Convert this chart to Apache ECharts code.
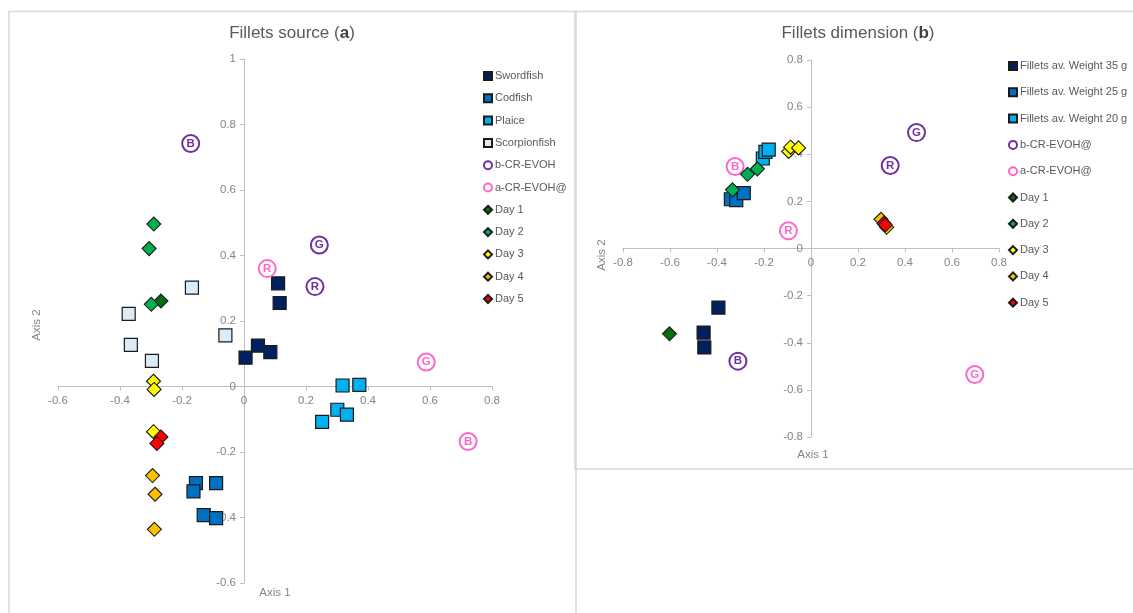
<!DOCTYPE html>
<html>
<head>
<meta charset="utf-8">
<script src="https://cdn.jsdelivr.net/npm/echarts@6/dist/echarts.min.js"></script>
<style>
  html, body { margin: 0; padding: 0; background: #ffffff; }
  #chart { width: 1133px; height: 613px; }
</style>
</head>
<body>
<div id="chart"></div>
<script>
// ---- Panel (a): Fillets source ----
const sourceLegend = ['Swordfish', 'Codfish', 'Plaice', 'Scorpionfish', 'b-CR-EVOH', 'a-CR-EVOH@', 'Day 1', 'Day 2', 'Day 3', 'Day 4', 'Day 5'];
const swordfish    = [[0.110, 0.315], [0.115, 0.255], [0.045, 0.125], [0.085, 0.105], [0.005, 0.088]];
const codfish      = [[-0.155, -0.295], [-0.090, -0.295], [-0.163, -0.320], [-0.130, -0.393], [-0.090, -0.402]];
const plaice       = [[0.318, 0.003], [0.372, 0.005], [0.301, -0.071], [0.332, -0.086], [0.252, -0.108]];
const scorpionfish = [[-0.168, 0.302], [-0.372, 0.222], [-0.365, 0.127], [-0.297, 0.078], [-0.060, 0.156]];
const srcBEvoh     = [[-0.172, 0.742, 'B'], [0.243, 0.432, 'G'], [0.229, 0.305, 'R']];
const srcAEvoh     = [[0.075, 0.360, 'R'], [0.588, 0.075, 'G'], [0.723, -0.168, 'B']];
const srcDay1      = [[-0.268, 0.261]];
const srcDay2      = [[-0.291, 0.496], [-0.306, 0.421], [-0.299, 0.251]];
const srcDay3      = [[-0.292, 0.016], [-0.290, -0.009], [-0.292, -0.138]];
const srcDay4      = [[-0.295, -0.272], [-0.287, -0.329], [-0.289, -0.436]];
const srcDay5      = [[-0.268, -0.154], [-0.281, -0.174]];
const srcXTicks    = { min: -0.6, max: 0.8, step: 0.2 };
const srcYTicks    = { min: -0.6, max: 1.0, step: 0.2 };

// ---- Panel (b): Fillets dimension ----
const dimLegend = ['Fillets av. Weight 35 g', 'Fillets av. Weight 25 g', 'Fillets av. Weight 20 g', 'b-CR-EVOH@', 'a-CR-EVOH@', 'Day 1', 'Day 2', 'Day 3', 'Day 4', 'Day 5'];
const weight35  = [[-0.394, -0.251], [-0.457, -0.357], [-0.454, -0.420]];
const weight25  = [[-0.341, 0.209], [-0.318, 0.205], [-0.286, 0.235]];
const weight20  = [[-0.205, 0.382], [-0.194, 0.410], [-0.180, 0.420]];
const dimBEvoh  = [[0.449, 0.492, 'G'], [0.337, 0.352, 'R'], [-0.311, -0.478, 'B']];
const dimAEvoh  = [[-0.323, 0.348, 'B'], [-0.096, 0.075, 'R'], [0.697, -0.535, 'G']];
const dimDay1   = [[-0.602, -0.362]];
const dimDay2   = [[-0.334, 0.249], [-0.270, 0.315], [-0.228, 0.338]];
const dimDay3   = [[-0.095, 0.412], [-0.087, 0.430], [-0.053, 0.427]];
const dimDay4   = [[0.298, 0.124], [0.322, 0.090]];
const dimDay5   = [[0.310, 0.107], [0.316, 0.100]];
const dimXTicks = { min: -0.8, max: 0.8, step: 0.2 };
const dimYTicks = { min: -0.8, max: 0.8, step: 0.2 };

// ---- styling ----
const FONT = '"Liberation Sans", Arial, sans-serif';
const TEXT = '#595959';
const TICK = '#858585';
const AXIS = '#bfbfbf';
const EDGE = '#1a1a1a';
const C = {
  navy: '#002060', blue: '#0070c0', sky: '#00b0f0', pale: '#ddebf7',
  purple: '#7030a0', pink: '#ff66cc',
  day1: '#00700f', day2: '#00b050', day3: '#ffff00', day4: '#ffc000', day5: '#ff0000'
};

// plot boxes of the two panels (pixels)
const gridA = { left: 58, top: 59, width: 434, height: 524 };
const gridB = { left: 623, top: 60, width: 376, height: 377 };

function squares(name, data, color, idx) {
  return { type: 'scatter', name, data, xAxisIndex: idx, yAxisIndex: idx,
    symbol: 'rect', symbolSize: 13,
    itemStyle: { color, borderColor: EDGE, borderWidth: 1.2, opacity: 1 } };
}
function diamonds(name, data, color, idx) {
  return { type: 'scatter', name, data, xAxisIndex: idx, yAxisIndex: idx,
    symbol: 'diamond', symbolSize: 14,
    itemStyle: { color, borderColor: EDGE, borderWidth: 1.1, opacity: 1 } };
}
function rings(name, data, color, idx) {
  return { type: 'scatter', name, data, xAxisIndex: idx, yAxisIndex: idx,
    symbol: 'circle', symbolSize: 17,
    encode: { x: 0, y: 1 },
    itemStyle: { color: '#ffffff', borderColor: color, borderWidth: 2, opacity: 1 },
    label: { show: true, position: 'inside', formatter: p => p.data[2],
      color, fontFamily: FONT, fontSize: 11.5, fontWeight: 'bold' } };
}
// pixel offset of the value-0 line from the grid edge, so tick labels sit beside the crossing axis
function zeroOffset(t, span) { return (0 - t.min) / (t.max - t.min) * span; }
function xAxisFor(idx, t, g, yt) {
  const shift = zeroOffset(yt, g.height);
  return { type: 'value', gridIndex: idx, min: t.min, max: t.max, interval: t.step,
    axisLine: { onZero: true, lineStyle: { color: AXIS, width: 1 } },
    axisTick: { show: true, length: 4, lineStyle: { color: AXIS } },
    axisLabel: { color: TICK, fontFamily: FONT, fontSize: 11.5, margin: 8 - shift,
      formatter: v => String(Math.round(v * 10) / 10) },
    splitLine: { show: false } };
}
function yAxisFor(idx, t, g, xt) {
  const shift = zeroOffset(xt, g.width);
  return { type: 'value', gridIndex: idx, min: t.min, max: t.max, interval: t.step,
    axisLine: { onZero: true, lineStyle: { color: AXIS, width: 1 } },
    axisTick: { show: true, length: 4, lineStyle: { color: AXIS } },
    axisLabel: { color: TICK, fontFamily: FONT, fontSize: 11.5, margin: 8 - shift,
      formatter: v => String(Math.round(v * 10) / 10) },
    splitLine: { show: false } };
}
function legendAt(data, left, top, gap) {
  return { data, orient: 'vertical', left, top, padding: 0, itemWidth: 8, itemHeight: 8, itemGap: gap,
    selectedMode: false,
    textStyle: { color: TEXT, fontFamily: FONT, fontSize: 11, lineHeight: 14, padding: [0, 0, 0, -2] } };
}
function axisName(text, x, y, rotate) {
  return { type: 'text', x, y, rotation: rotate ? Math.PI / 2 : 0,
    style: { text, fill: TICK, font: '11.5px ' + FONT, align: 'center', verticalAlign: 'middle' } };
}
function panelTitle(main, letter, x) {
  return { text: '{n|' + main + ' (}{b|' + letter + '}{n|)}', left: x, top: 25, textAlign: 'center', padding: 0,
    textStyle: { fontWeight: 'normal', rich: {
      n: { fontFamily: FONT, fontSize: 17, color: TEXT, fontWeight: 'normal' },
      b: { fontFamily: FONT, fontSize: 17, color: '#404040', fontWeight: 'bold' } } } };
}

const option = {
  animation: false,
  backgroundColor: '#ffffff',
  title: [panelTitle('Fillets source', 'a', 292), panelTitle('Fillets dimension', 'b', 858)],
  legend: [legendAt(sourceLegend, 483, 69, 8.3), legendAt(dimLegend, 1008, 59, 12.3)],
  grid: [gridA, gridB],
  xAxis: [xAxisFor(0, srcXTicks, gridA, srcYTicks), xAxisFor(1, dimXTicks, gridB, dimYTicks)],
  yAxis: [yAxisFor(0, srcYTicks, gridA, srcXTicks), yAxisFor(1, dimYTicks, gridB, dimXTicks)],
  graphic: [
    { type: 'rect', shape: { x: 9, y: 11.5, width: 567, height: 620 },
      style: { fill: 'none', stroke: '#d9d9d9', lineWidth: 1.5 }, silent: true },
    { type: 'rect', shape: { x: 575, y: 11.5, width: 580, height: 457.5 },
      style: { fill: 'none', stroke: '#d9d9d9', lineWidth: 1.5 }, silent: true },
    axisName('Axis 2', 37, 325, true),
    axisName('Axis 1', 275, 593, false),
    axisName('Axis 2', 602, 255, true),
    axisName('Axis 1', 813, 455, false)
  ],
  series: [
    squares('Swordfish', swordfish, C.navy, 0),
    squares('Codfish', codfish, C.blue, 0),
    squares('Plaice', plaice, C.sky, 0),
    squares('Scorpionfish', scorpionfish, C.pale, 0),
    rings('b-CR-EVOH', srcBEvoh, C.purple, 0),
    rings('a-CR-EVOH@', srcAEvoh, C.pink, 0),
    diamonds('Day 1', srcDay1, C.day1, 0),
    diamonds('Day 2', srcDay2, C.day2, 0),
    diamonds('Day 3', srcDay3, C.day3, 0),
    diamonds('Day 4', srcDay4, C.day4, 0),
    diamonds('Day 5', srcDay5, C.day5, 0),

    squares('Fillets av. Weight 35 g', weight35, C.navy, 1),
    squares('Fillets av. Weight 25 g', weight25, C.blue, 1),
    squares('Fillets av. Weight 20 g', weight20, C.sky, 1),
    rings('b-CR-EVOH@', dimBEvoh, C.purple, 1),
    rings('a-CR-EVOH@', dimAEvoh, C.pink, 1),
    diamonds('Day 1', dimDay1, C.day1, 1),
    diamonds('Day 2', dimDay2, C.day2, 1),
    diamonds('Day 3', dimDay3, C.day3, 1),
    diamonds('Day 4', dimDay4, C.day4, 1),
    diamonds('Day 5', dimDay5, C.day5, 1)
  ]
};

const chart = echarts.init(document.getElementById('chart'), null, { renderer: 'canvas' });
chart.setOption(option);
</script>
</body>
</html>
